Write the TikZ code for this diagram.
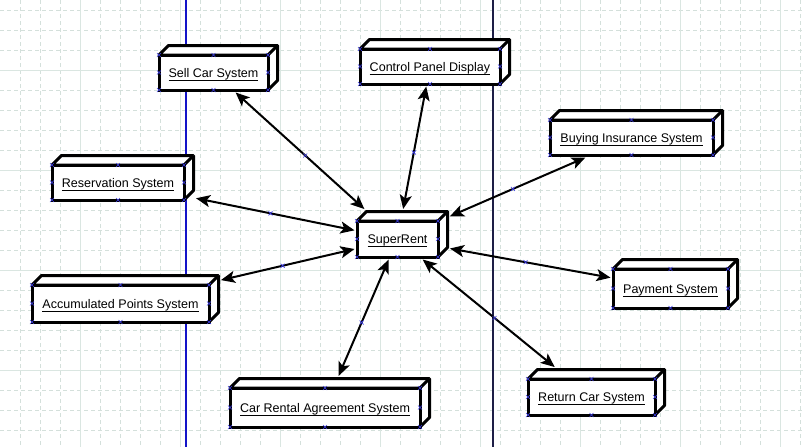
\documentclass[tikz,border=0pt]{standalone}
\usepackage{fontspec}
\setmainfont{Liberation Sans}
\usetikzlibrary{arrows.meta,calc}
\definecolor{gridminor}{RGB}{212,224,219}
\definecolor{gridmajor}{RGB}{218,230,225}
\definecolor{guideblue}{RGB}{20,20,200}
\definecolor{guidedark}{RGB}{30,30,70}
\definecolor{handleblue}{RGB}{60,60,230}
\newsavebox\ulsave
\newcommand\ultext[1]{\sbox\ulsave{#1}\rlap{\rule[-2.6pt]{\wd\ulsave}{0.75pt}}\usebox\ulsave}
\newcommand\xcross[1]{\draw[xmark] #1 ++(-2,-2) -- ++(4,4) ++(0,-4) -- ++(-4,4);}
\newcommand\dbox[6]{%
  \pgfmathsetmacro\dbXa{#2-#4/2}\pgfmathsetmacro\dbXb{#2+#4/2}%
  \pgfmathsetmacro\dbYa{#3-#5/2}\pgfmathsetmacro\dbYb{#3+#5/2}%
  \filldraw[depthface] (\dbXa,\dbYa) -- ({\dbXa+9.5},{\dbYa-9.5}) -- ({\dbXb+9.5},{\dbYa-9.5})
     -- ({\dbXb+9.5},{\dbYb-9.5}) -- (\dbXb,\dbYb) -- (\dbXb,\dbYa) -- cycle;
  \draw[depthface] (\dbXb,\dbYa) -- ({\dbXb+9.5},{\dbYa-9.5});
  \node[frontface, minimum width=#4*0.75pt, minimum height=#5*0.75pt] (#1) at (#2,#3) {\ultext{#6}};
  \xcross{(\dbXa,\dbYa)}\xcross{(#2,\dbYa)}\xcross{(\dbXb,\dbYa)}%
  \xcross{(\dbXa,#3)}\xcross{(\dbXb,#3)}%
  \xcross{(\dbXa,\dbYb)}\xcross{(#2,\dbYb)}\xcross{(\dbXb,\dbYb)}%
}
\tikzset{
  minorline/.style={gridminor, line width=0.75pt, dash pattern=on 3pt off 2.25pt},
  majorline/.style={gridmajor, line width=0.75pt},
  depthface/.style={draw=black, fill=white, line width=2.25pt, line join=round},
  frontface/.style={draw=black, fill=white, line width=2.25pt, inner sep=1.5pt,
    outer sep=1.875pt, text height=10.4pt, text depth=3pt,
    font=\fontsize{9.4pt}{11pt}\selectfont},
  conn/.style={line width=1.5pt,
    arrows={Stealth[length=10.5pt,width=9pt,inset=2.5pt]-Stealth[length=10.5pt,width=9pt,inset=2.5pt]}},
  xmark/.style={handleblue, line width=0.5pt},
}
\begin{document}
\begin{tikzpicture}[x=0.75pt,y=-0.75pt]
\useasboundingbox (0,0) rectangle (803,447);
\fill[white] (0,0) rectangle (803,447);
% grid
\foreach \gx in {20,40,...,800} \draw[minorline] (\gx,0) -- (\gx,447);
\foreach \gy in {10,30,...,440} \draw[minorline] (0,\gy) -- (803,\gy);
\foreach \gx in {80,180,...,780} \draw[majorline] (\gx,0) -- (\gx,447);
\foreach \gy in {70,170,270,370} \draw[majorline] (0,\gy) -- (803,\gy);
% guide lines
\draw[guideblue, line width=0.9pt] (186,0) -- (186,447);
\draw[guidedark, line width=0.9pt] (493,0) -- (493,447);
% boxes
\dbox{sell}{213.5}{72.5}{109}{35}{Sell Car System}
\dbox{control}{430}{66.5}{140}{35}{Control Panel Display}
\dbox{buying}{631.5}{137.5}{163}{35}{Buying Insurance System}
\dbox{reservation}{118}{182.5}{132}{35}{Reservation System}
\dbox{super}{397.5}{239}{81}{36}{SuperRent}
\dbox{accum}{120.5}{303.5}{177}{37}{Accumulated Points System}
\dbox{payment}{670.5}{288.5}{115}{39}{Payment System}
\dbox{rental}{325}{407.5}{190}{39}{Car Rental Agreement System}
\dbox{return}{591.5}{397}{127}{36}{Return Car System}
% connectors
\draw[conn, shorten >=10.6pt] (sell) -- coordinate (m1) (super);
\draw[conn, shorten >=7.25pt] (control) -- coordinate (m2) (super);
\draw[conn, shorten >=7.7pt] (buying) -- coordinate (m3) (super);
\draw[conn, shorten <=7.3pt] (reservation) -- coordinate (m4) (super);
\draw[conn, shorten <=7.95pt] (accum) -- coordinate (m5) (super);
\draw[conn, shorten >=7.2pt] (payment) -- coordinate (m6) (super);
\draw[conn, shorten <=7.8pt] (rental) -- coordinate (m7) (super);
\draw[conn, shorten <=11.25pt] (return) -- coordinate (m8) (super);
\foreach \m in {m1,m2,m3,m4,m5,m6,m7,m8} {\xcross{(\m)}}
\end{tikzpicture}
\end{document}
